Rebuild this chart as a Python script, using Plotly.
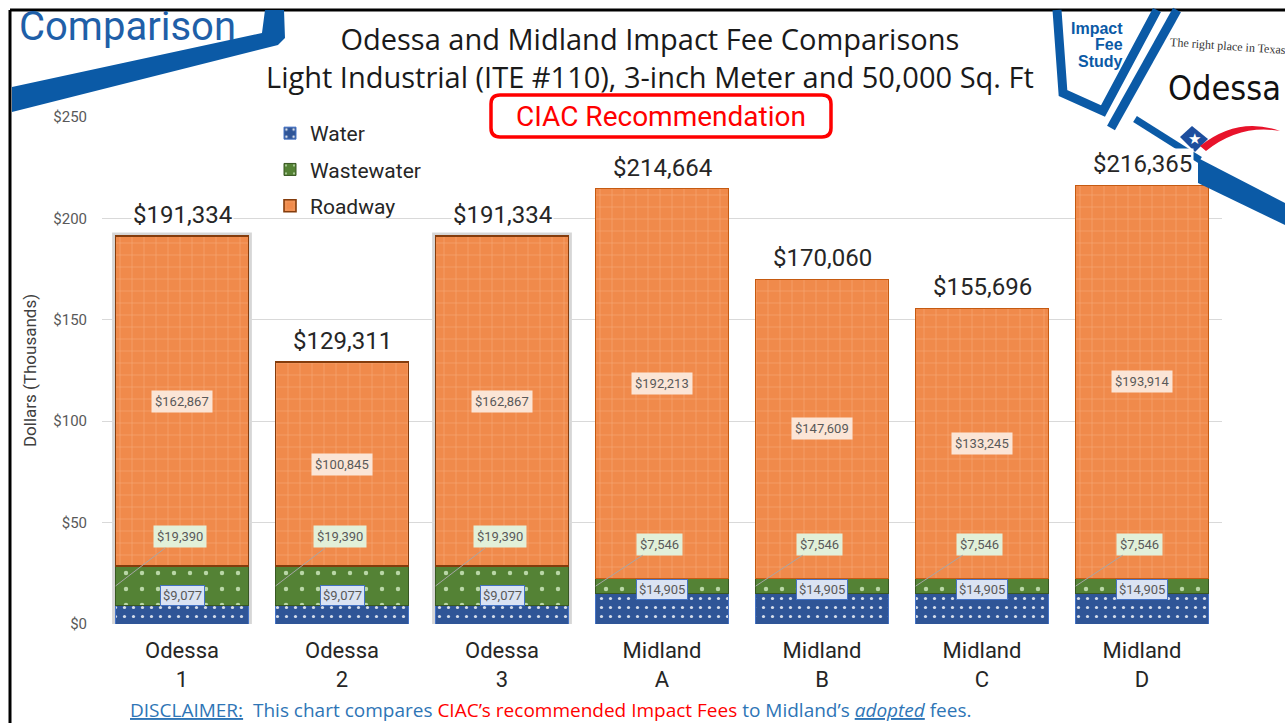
import plotly.graph_objects as go

# ---------------- data (thousands of dollars) ----------------
cities = ["Odessa", "Odessa", "Odessa", "Midland", "Midland", "Midland", "Midland"]
options = ["1", "2", "3", "A", "B", "C", "D"]
water = [9.077, 9.077, 9.077, 14.905, 14.905, 14.905, 14.905]
wastewater = [19.390, 19.390, 19.390, 7.546, 7.546, 7.546, 7.546]
roadway = [162.867, 100.845, 162.867, 192.213, 147.609, 133.245, 193.914]
totals = [191334, 129311, 191334, 214664, 170060, 155696, 216365]
y_ticks = [0, 50, 100, 150, 200, 250]

categories = [f"{c}<br>{o}" for c, o in zip(cities, options)]

# ---------------- layout geometry ----------------
W, H = 1285, 723
ML, MR, MT, MB = 102, 63, 117, 99
PW = W - ML - MR
PH = H - MT - MB
PB = H - MB


def px(x):
    return (x - ML) / PW


def py(y):
    return (PB - y) / PH


def path(points, close=True):
    s = "M" + " L".join(f"{px(x):.5f},{py(y):.5f}" for x, y in points)
    return s + (" Z" if close else "")


def money(v):
    return f"${int(round(v * 1000)):,}"


TXT = "Roboto, 'Open Sans', sans-serif"
WIDE = "'Open Sans', Roboto, sans-serif"
BLUE = "#0B5AA6"


def note(x, y, text, size, color, family=TXT, xanchor="center", **kw):
    d = dict(xref="paper", yref="paper", x=px(x), y=py(y), text=text, showarrow=False,
             xanchor=xanchor, yanchor="middle",
             font=dict(family=family, size=size, color=color))
    d.update(kw)
    return d


fig = go.Figure()

fig.add_trace(go.Bar(
    x=categories, y=water, name="Water", legendgroup="w",
    marker=dict(color="#2F5597", line=dict(color="#4472C4", width=1),
                pattern=dict(shape=".", bgcolor="#2F5597", fgcolor="#FFFFFF",
                             fgopacity=0.8, size=9, solidity=0.1)),
))
fig.add_trace(go.Bar(
    x=categories, y=wastewater, name="Wastewater", legendgroup="ww",
    marker=dict(color="#548235", line=dict(color="#385723", width=1),
                pattern=dict(shape=".", bgcolor="#548235", fgcolor="#C5E0B4",
                             fgopacity=0.9, size=16, solidity=0.06)),
))
road_line = ["#843C0C" if c == "Odessa" else "#C55A11" for c in cities]
road_w = [1.6 if c == "Odessa" else 1 for c in cities]
fig.add_trace(go.Bar(
    x=categories, y=roadway, name="Roadway", legendgroup="r",
    marker=dict(color="#F08A4B", line=dict(color=road_line, width=road_w),
                pattern=dict(shape="+", bgcolor="#F08A4B", fgcolor="#F9C9A8",
                             fgopacity=0.55, size=12, solidity=0.08)),
))

annotations = []
shapes = []
half = (1 - 0.17) / 2

for i, c in enumerate(cities):
    w, ww, r = water[i], wastewater[i], roadway[i]
    # totals
    annotations.append(dict(
        x=i, y=totals[i] / 1000, xref="x", yref="y", text=f"${totals[i]:,}",
        showarrow=False, yanchor="bottom", yshift=5, bgcolor="white",
        font=dict(family=TXT, size=24, color="#262626")))
    # roadway labels
    annotations.append(dict(
        x=i, y=w + ww + r / 2, xref="x", yref="y", text=money(r),
        showarrow=False, bgcolor="#FBE5D6", borderpad=3,
        font=dict(family=TXT, size=13, color="#595959")))
    # wastewater callouts
    annotations.append(dict(
        x=i - half, y=w + ww / 2, xref="x", yref="y", text=money(ww),
        showarrow=True, arrowhead=0, arrowwidth=1, arrowcolor="#A6A6A6",
        ax=64, ay=-49 if c == "Odessa" else -42,
        bgcolor="#E2F0D9", borderpad=3,
        font=dict(family=TXT, size=13, color="#595959")))
    # water labels
    annotations.append(dict(
        x=i, y=w, xref="x", yref="y", text=money(w),
        showarrow=False, yshift=10 if c == "Odessa" else 4,
        bgcolor="#DAE3F3", bordercolor="#4472C4", borderwidth=1, borderpad=2,
        font=dict(family=TXT, size=13, color="#595959")))
    # glow around recommended bars
    if options[i] in ("1", "3"):
        shapes.append(dict(
            type="rect", xref="x", yref="y", layer="below",
            x0=i - half, x1=i + half, y0=0, y1=totals[i] / 1000,
            line=dict(color="rgba(0,0,0,0.16)", width=7), fillcolor="rgba(0,0,0,0)"))

# ---------------- decorations ----------------
# frame
shapes.append(dict(type="line", xref="paper", yref="paper", x0=px(10), x1=px(1285),
                   y0=py(10), y1=py(10), line=dict(color="black", width=3)))
shapes.append(dict(type="line", xref="paper", yref="paper", x0=px(10), x1=px(10),
                   y0=py(10), y1=py(723), line=dict(color="black", width=3)))
# Comparison ribbon
shapes.append(dict(type="path", xref="paper", yref="paper", layer="above",
                   path=path([(265, 10), (284, 10), (285, 38), (278, 45), (12, 112),
                              (12, 87), (262, 33)]),
                   fillcolor=BLUE, line=dict(width=0)))
annotations.append(note(17, 27, "Comparison", 40, "#1F5FA8", xanchor="left"))
# logo bands
shapes.append(dict(type="path", xref="paper", yref="paper", layer="above",
                   path=path([(1057, 10), (1063, 93), (1103, 111), (1157, 10)], close=False),
                   line=dict(color=BLUE, width=9)))
shapes.append(dict(type="path", xref="paper", yref="paper", layer="above",
                   path=path([(1111, 128), (1177, 10)], close=False),
                   line=dict(color=BLUE, width=9)))
shapes.append(dict(type="path", xref="paper", yref="paper", layer="above",
                   path=path([(1135, 119), (1200, 160)], close=False),
                   line=dict(color=BLUE, width=7)))
shapes.append(dict(type="path", xref="paper", yref="paper", layer="above",
                   path=path([(1198, 158), (1285, 203), (1285, 225), (1198, 183)]),
                   fillcolor=BLUE, line=dict(width=0)))
# flag / swoosh
shapes.append(dict(type="path", xref="paper", yref="paper", layer="above",
                   path=path([(1180, 137), (1192, 126), (1208, 139), (1195, 152)]),
                   fillcolor="#1D4E9E", line=dict(width=0)))
shapes.append(dict(type="path", xref="paper", yref="paper", layer="above",
                   path=(f"M{px(1200):.5f},{py(146):.5f} Q{px(1238):.5f},{py(116):.5f} "
                         f"{px(1280):.5f},{py(131):.5f} Q{px(1240):.5f},{py(124):.5f} "
                         f"{px(1206):.5f},{py(151):.5f} Z"),
                   fillcolor="#E8132B", line=dict(width=0)))
annotations.append(note(1194, 139, "★", 15, "white"))
for t, yy in (("Impact", 28), ("Fee", 45), ("Study", 62)):
    annotations.append(note(1125, yy, f"<b>{t}</b>", 16, BLUE,
                            family="'Liberation Sans', Arial, sans-serif", xanchor="right"))
annotations.append(note(1228, 46, "The right place in Texas", 12, "#333333",
                        family="'Liberation Serif', serif", textangle=4))
annotations.append(note(1224, 88, "Odessa", 34, "#111111",
                        family="'Liberation Sans Narrow', 'DejaVu Sans Condensed', Roboto, sans-serif"))
# titles
annotations.append(note(650, 57,
                        "Odessa and Midland Impact Fee Comparisons<br>"
                        "Light Industrial (ITE #110), 3-inch Meter and 50,000 Sq. Ft",
                        29, "#1A1A1A", family=WIDE))
# CIAC box
r = 9
x0, x1, y0, y1 = 491, 831, 95, 137
shapes.append(dict(type="path", xref="paper", yref="paper", layer="above",
                   path=(f"M{px(x0 + r):.5f},{py(y0):.5f} L{px(x1 - r):.5f},{py(y0):.5f} "
                         f"Q{px(x1):.5f},{py(y0):.5f} {px(x1):.5f},{py(y0 + r):.5f} "
                         f"L{px(x1):.5f},{py(y1 - r):.5f} "
                         f"Q{px(x1):.5f},{py(y1):.5f} {px(x1 - r):.5f},{py(y1):.5f} "
                         f"L{px(x0 + r):.5f},{py(y1):.5f} "
                         f"Q{px(x0):.5f},{py(y1):.5f} {px(x0):.5f},{py(y1 - r):.5f} "
                         f"L{px(x0):.5f},{py(y0 + r):.5f} "
                         f"Q{px(x0):.5f},{py(y0):.5f} {px(x0 + r):.5f},{py(y0):.5f} Z"),
                   fillcolor="white", line=dict(color="#FF0000", width=3.5)))
annotations.append(note(661, 116, "CIAC Recommendation", 28, "#FF0000"))
# disclaimer
DB = "#2E75B6"
annotations.append(note(
    128, 710,
    ("<u>DISCLAIMER:</u>  This chart compares "
     "<span style='color:#FF0000'>CIAC’s recommended Impact Fees</span>"
     " to Midland’s <u><i>adopted</i></u> fees."),
    19, DB, family=WIDE, xanchor="left"))

fig.update_layout(
    width=W, height=H,
    margin=dict(l=ML, r=MR, t=MT, b=MB, autoexpand=False),
    paper_bgcolor="white", plot_bgcolor="white",
    barmode="stack", bargap=0.17,
    showlegend=True,
    legend=dict(x=px(270), y=py(113), xanchor="left", yanchor="top",
                traceorder="grouped", tracegroupgap=6, bgcolor="rgba(0,0,0,0)",
                font=dict(family=TXT, size=21, color="#262626")),
    xaxis=dict(tickfont=dict(family=TXT, size=22, color="#262626"), showgrid=False,
               showline=False, ticks="", ticklabelstandoff=11),
    yaxis=dict(range=[0, 250], tickvals=y_ticks, ticktext=[f"${v}" for v in y_ticks],
               tickfont=dict(family=TXT, size=15, color="#595959"),
               showgrid=True, gridcolor="#D9D9D9", gridwidth=1, zeroline=False,
               ticklabelstandoff=14,
               title=dict(text="Dollars (Thousands)", standoff=12,
                          font=dict(family=TXT, size=17, color="#404040"))),
    annotations=annotations, shapes=shapes,
)

fig.write_html("out.html", config={"displayModeBar": False},
               post_script="document.body.style.margin='0';")
